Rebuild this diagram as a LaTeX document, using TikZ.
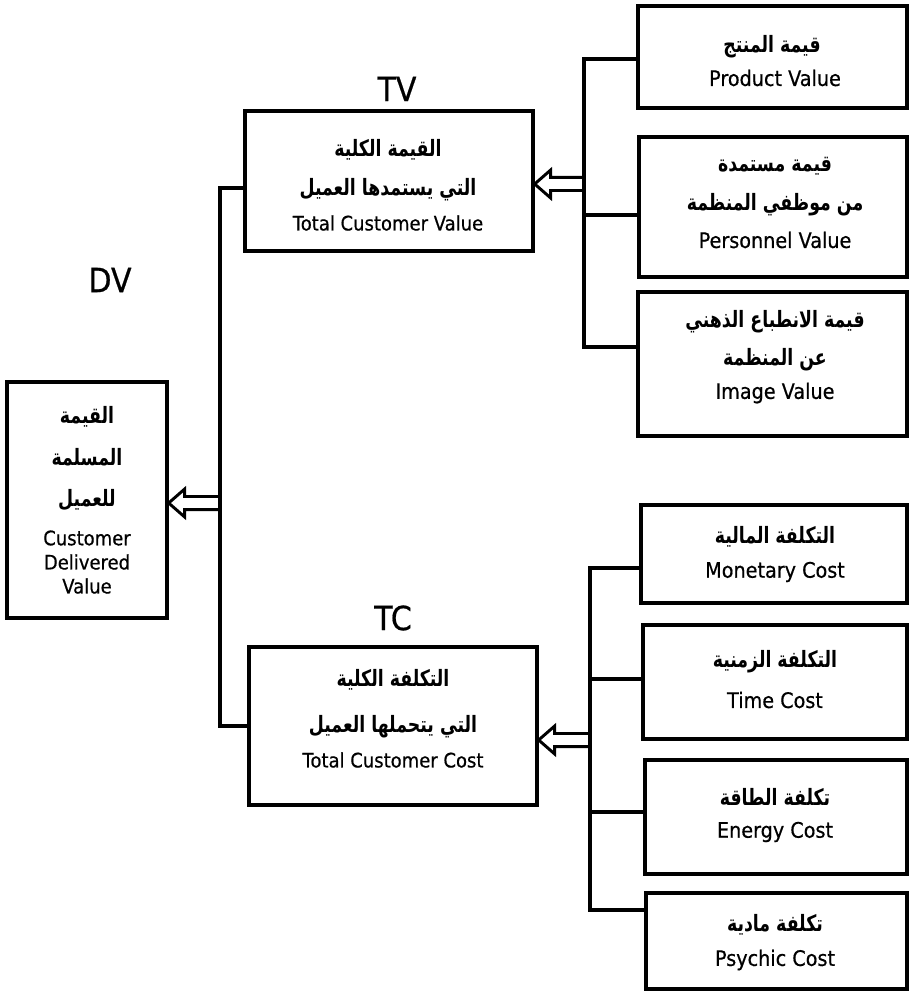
\documentclass[tikz,border=0pt]{standalone}
\usepackage{graphicx}
\usepackage{fontspec}
\setmainfont{DejaVu Sans}[FakeStretch=0.9,FakeBold=0.6]
\newfontfamily\arabicfont[Script=Arabic]{DejaVu Sans}
\TeXXeTstate=1
\usetikzlibrary{calc,fit}
\newcommand{\artxt}[1]{\scalebox{1}[1.3]{\arabicfont\bfseries\beginR #1\endR}}
\newcommand{\hollowarrow}[2]{%
  \draw[harrow] let \p1=(#1), \p2=(#2) in
    (\x1,\y1+4.9pt) -- (\x2+12pt,\y1+4.9pt) -- (\x2+12pt,\y1+10.5pt) -- (\x2,\y1)
    -- (\x2+12pt,\y1-10.5pt) -- (\x2+12pt,\y1-4.9pt) -- (\x1,\y1-4.9pt);}
\begin{document}
\begin{tikzpicture}[x=0.75pt,y=-0.75pt,
  box/.style={draw, line width=2.5pt, inner sep=0pt},
  conn/.style={line width=2.4pt, line join=miter},
  harrow/.style={line width=2.2pt, line join=miter},
  ltxt/.style={inner sep=0pt, anchor=center, font=\fontsize{15}{18}\selectfont},
  rtxt/.style={inner sep=0pt, anchor=center, font=\fontsize{16}{19}\selectfont},
  atxt/.style={inner sep=0pt, anchor=center, font=\fontsize{13}{15}\selectfont},
  lbl/.style={inner sep=0pt, anchor=center, font=\fontsize{25}{30}\selectfont}]
\useasboundingbox (0,0) rectangle (909,991);

% boxes
\node[box, fit={(7,382) (167,618)}] (dv) {};
\node[box, fit={(245,111) (533,251)}] (tv) {};
\node[box, fit={(249,647) (537,805)}] (tc) {};
\node[box, fit={(638,6) (907,108)}] (pv) {};
\node[box, fit={(639,137) (907,277)}] (pe) {};
\node[box, fit={(638,292) (907,436)}] (iv) {};
\node[box, fit={(641,505) (907,603)}] (mc) {};
\node[box, fit={(643,625) (907,739)}] (tm) {};
\node[box, fit={(645,760) (907,874)}] (ec) {};
\node[box, fit={(646,893) (907,989)}] (pc) {};

% labels
\node[lbl] (lbltv) at (397,89) {TV};
\node[lbl] (lbldv) at (110,280) {DV};
\node[lbl] (lbltc) at (393,618) {TC};

% DV texts
\node[atxt] (dv1) at (87,417) {\artxt{القيمة}};
\node[atxt] (dv2) at (87,457) {\artxt{المسلمة}};
\node[atxt] (dv3) at (87,500) {\artxt{للعميل}};
\node[ltxt] (dv4) at (87,538) {Customer};
\node[ltxt] (dv5) at (87,562) {Delivered};
\node[ltxt] (dv6) at (87,586) {Value};

% TV texts
\node[atxt] (tv1) at (388,150) {\artxt{القيمة الكلية}};
\node[atxt] (tv2) at (388,190) {\artxt{التي يستمدها العميل}};
\node[ltxt] (tv3) at (388,223) {Total Customer Value};

% TC texts
\node[atxt] (tc1) at (393,680) {\artxt{التكلفة الكلية}};
\node[atxt] (tc2) at (393,727) {\artxt{التي يتحملها العميل}};
\node[ltxt] (tc3) at (393,760) {Total Customer Cost};

% value boxes texts
\node[atxt] (pv1) at (772,47) {\artxt{قيمة المنتج}};
\node[rtxt] (pv2) at (775,78) {Product Value};
\node[atxt] (pe1) at (775,166) {\artxt{قيمة مستمدة}};
\node[atxt] (pe2) at (775,205) {\artxt{من موظفي المنظمة}};
\node[rtxt] (pe3) at (775,240) {Personnel Value};
\node[atxt] (iv1) at (775,322) {\artxt{قيمة الانطباع الذهني}};
\node[atxt] (iv2) at (775,360) {\artxt{عن المنظمة}};
\node[rtxt] (iv3) at (775,393) {Image Value};

% cost boxes texts
\node[atxt] (mc1) at (775,537) {\artxt{التكلفة المالية}};
\node[rtxt] (mc2) at (775,572) {Monetary Cost};
\node[atxt] (tm1) at (775,662) {\artxt{التكلفة الزمنية}};
\node[rtxt] (tm2) at (775,700) {Time Cost};
\node[atxt] (ec1) at (775,797) {\artxt{تكلفة الطاقة}};
\node[rtxt] (ec2) at (775,832) {Energy Cost};
\node[atxt] (pc1) at (775,925) {\artxt{تكلفة مادية}};
\node[rtxt] (pc2) at (775,960) {Psychic Cost};

% left trunk
\coordinate (j1) at (220,188);
\coordinate (j2) at (220,726);
\coordinate (ja) at (220,503);
\draw[conn] (tv.west |- j1) -- (j1) -- (j2) -- (tc.west |- j2);
\hollowarrow{ja}{dv.east |- ja}

% value trunk
\coordinate (v1) at (584,59);
\coordinate (v2) at (584,215);
\coordinate (v3) at (584,347);
\coordinate (va) at (584,184);
\draw[conn] (pv.west |- v1) -- (v1) -- (v3) -- (iv.west |- v3);
\draw[conn] (v2) -- (pe.west |- v2);
\hollowarrow{va}{tv.east |- va}

% cost trunk
\coordinate (c1) at (590,568);
\coordinate (c2) at (590,679);
\coordinate (c3) at (590,812);
\coordinate (c4) at (590,910);
\coordinate (ca) at (590,740);
\draw[conn] (mc.west |- c1) -- (c1) -- (c4) -- (pc.west |- c4);
\draw[conn] (c2) -- (tm.west |- c2);
\draw[conn] (c3) -- (ec.west |- c3);
\hollowarrow{ca}{tc.east |- ca}
\end{tikzpicture}
\end{document}
